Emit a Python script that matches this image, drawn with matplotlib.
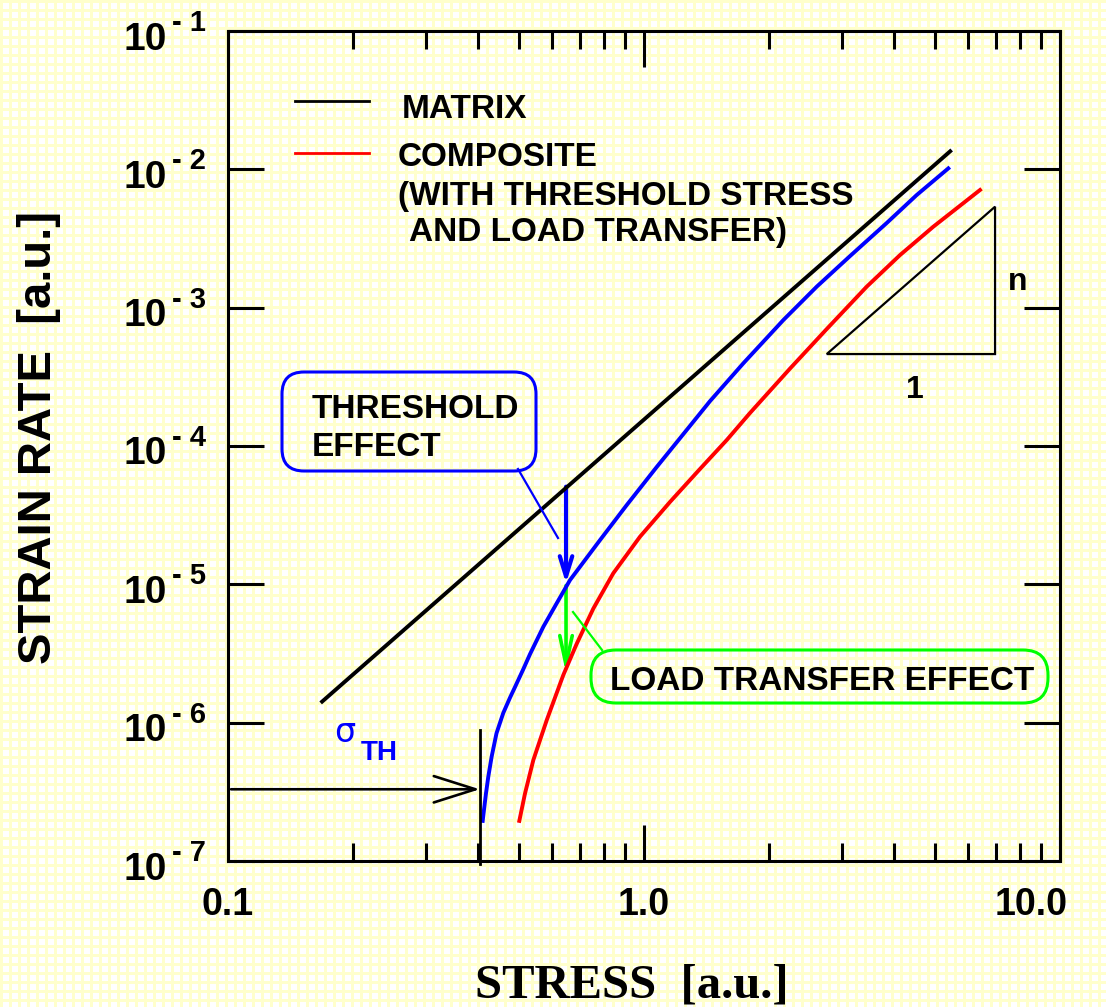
import numpy as np
import matplotlib
matplotlib.use('Agg')
import matplotlib.pyplot as plt
from matplotlib.patches import FancyBboxPatch, Polygon, FancyArrowPatch
from matplotlib.lines import Line2D
from matplotlib.ticker import LogLocator, NullLocator, NullFormatter

# ---------------- data ----------------
matrix_stress = [0.167, 5.49]
matrix_rate = [1.39e-6, 1.38e-2]

threshold_stress = [0.4095, 0.4124, 0.4170, 0.4224, 0.4303, 0.4420, 0.4589, 0.4760,
                    0.4897, 0.5128, 0.5321, 0.5729, 0.6167, 0.6640, 0.7840, 0.9087,
                    1.0728, 1.2666, 1.4409, 1.7327, 2.1627, 2.6009, 3.1276, 3.8310,
                    4.5235, 5.3891]
threshold_rate = [1.95e-7, 2.34e-7, 3.08e-7, 4.07e-7, 5.68e-7, 8.38e-7, 1.175e-6, 1.51e-6,
                  1.81e-6, 2.44e-6, 3.13e-6, 4.94e-6, 7.29e-6, 1.074e-5, 2.09e-5, 3.74e-5,
                  7.05e-5, 1.306e-4, 2.11e-4, 3.96e-4, 8.14e-4, 1.418e-3, 2.36e-3, 4.09e-3,
                  6.52e-3, 1.016e-2]

composite_stress = [0.5015, 0.5176, 0.5420, 0.5838, 0.6398, 0.6888, 0.7554, 0.8436,
                    0.9781, 1.1548, 1.3632, 1.5807, 1.7974, 2.2441, 2.7496, 3.4302,
                    4.1246, 4.9603, 6.4235]
composite_rate = [1.95e-7, 3.08e-7, 5.37e-7, 1.045e-6, 2.21e-6, 3.71e-6, 6.68e-6, 1.202e-5,
                  2.21e-5, 3.94e-5, 6.82e-5, 1.104e-4, 1.73e-4, 3.63e-4, 7.01e-4, 1.418e-3,
                  2.40e-3, 3.85e-3, 7.09e-3]

sigma_th = 0.403
sigma_arrow_rate = 3.3e-7
sigma_line_rate = [8.85e-7, 9.5e-8]

effect_stress = 0.6495
threshold_arrow_rate = [5.08e-5, 1.016e-5]
transfer_arrow_rate = [9.8e-6, 2.27e-6]

slope_x = [2.75, 6.98]
slope_y = [4.62e-4, 5.37e-3]

x_ticks = [0.1, 1.0, 10.0]
x_ticklabels = ['0.1', '1.0', '10.0']
y_exponents = [-1, -2, -3, -4, -5, -6, -7]

# ---------------- figure ----------------
W, H, DPI = 1106, 1007, 100
fig = plt.figure(figsize=(W / DPI, H / DPI), dpi=DPI)
SANS = 'Liberation Sans'

# paper-grid background
bg = fig.add_axes([0, 0, 1, 1], zorder=-10)
img = np.ones((H, W, 3))
yellow = np.array([1.0, 1.0, 0.80])
rows = (np.arange(H) % 9) <= 2
cols = (np.arange(W) % 9) <= 2
img[rows, :, :] = yellow
img[:, cols, :] = yellow
bg.imshow(img, aspect='auto', interpolation='nearest', extent=[0, W, H, 0])
bg.set_xlim(0, W); bg.set_ylim(H, 0)
bg.axis('off')

L, R, T, B = 228, 1060, 31, 861
ax = fig.add_axes([L / W, 1 - B / H, (R - L) / W, (B - T) / H])
ax.set_facecolor('none')
ax.set_xscale('log'); ax.set_yscale('log')
ax.set_xlim(0.1, 10); ax.set_ylim(1e-7, 1e-1)

for s in ax.spines.values():
    s.set_linewidth(2.2)

ax.xaxis.set_major_locator(LogLocator(base=10, numticks=10))
ax.xaxis.set_minor_locator(LogLocator(base=10, subs=np.arange(2, 10), numticks=20))
ax.xaxis.set_minor_formatter(NullFormatter())
ax.yaxis.set_minor_locator(NullLocator())
ax.tick_params(which='major', direction='in', length=26, width=2.2,
               top=True, right=True, labelleft=False, labelbottom=False)
ax.tick_params(which='minor', direction='in', length=13, width=2.2,
               top=True, right=True)

# curves
ax.plot(matrix_stress, matrix_rate, color='black', lw=2.8, solid_capstyle='butt')
ax.plot(threshold_stress, threshold_rate, color='#0000ff', lw=2.8)
ax.plot(composite_stress, composite_rate, color='#ff0000', lw=2.8)

# slope triangle
tri = Polygon([(slope_x[0], slope_y[0]), (slope_x[1], slope_y[0]), (slope_x[1], slope_y[1])],
              closed=True, fill=False, ec='black', lw=1.6)
ax.add_patch(tri)

# arrows
def arrow(p0, p1, color, lw, hl, hw):
    a2 = FancyArrowPatch(p0, p1, arrowstyle='->,head_length=%f,head_width=%f' % (hl, hw),
                         color=color, lw=lw, mutation_scale=10,
                         shrinkA=0, shrinkB=0, transform=ax.transData, clip_on=False)
    ax.add_patch(a2)

arrow((effect_stress, threshold_arrow_rate[0]), (effect_stress, threshold_arrow_rate[1]),
      '#0000ff', 3.0, 1.45, 0.45)
arrow((effect_stress, transfer_arrow_rate[0]), (effect_stress, transfer_arrow_rate[1]),
      '#00ff00', 2.6, 2.1, 0.45)
arrow((0.1017, sigma_arrow_rate), (sigma_th, sigma_arrow_rate), 'black', 1.9, 3.0, 0.95)
ax.plot([sigma_th, sigma_th], sigma_line_rate, color='black', lw=2.0, clip_on=False)

# tick labels
xoffs = [0, 0, -29]
for xt, lab, off in zip(x_ticks, x_ticklabels, xoffs):
    ax.annotate(lab, xy=(xt, 0), xycoords=ax.get_xaxis_transform(),
                xytext=(off * 0.72, -44 * 0.72), textcoords='offset points',
                ha='center', va='center', fontsize=27, fontweight='bold', family=SANS,
                annotation_clip=False)
for e in y_exponents:
    ax.annotate('10', xy=(0, 10.0 ** e), xycoords=ax.get_yaxis_transform(),
                xytext=(-61 * 0.72, -8.5 * 0.72), textcoords='offset points',
                ha='right', va='center', fontsize=28, fontweight='bold', family=SANS,
                annotation_clip=False)
    ax.annotate('- %d' % abs(e), xy=(0, 10.0 ** e), xycoords=ax.get_yaxis_transform(),
                xytext=(-56 * 0.72, 8 * 0.72), textcoords='offset points',
                ha='left', va='center', fontsize=21, fontweight='bold', family=SANS,
                annotation_clip=False)

# axis titles
fig.text(39 / W, 1 - 437 / H, 'STRAIN RATE  [a.u.]', rotation=90, ha='center', va='center',
         fontsize=34, fontweight='bold', family=SANS)
fig.text(632 / W, 1 - 985 / H, 'STRESS  [a.u.]', ha='center', va='center',
         fontsize=35, fontweight='bold', family='Liberation Serif')

# helpers in pixel space (from top-left)
tr = fig.dpi_scale_trans
def P(x, y):
    return (x / DPI, (H - y) / DPI)

def ptext(x, y, s, **kw):
    kw.setdefault('fontsize', 24)
    kw.setdefault('fontweight', 'bold')
    kw.setdefault('family', SANS)
    kw.setdefault('va', 'center')
    kw.setdefault('ha', 'left')
    fig.text(*P(x, y), s, transform=tr, **kw)

def pline(x0, y0, x1, y1, color, lw):
    (a, b), (c, d) = P(x0, y0), P(x1, y1)
    fig.add_artist(Line2D([a, c], [b, d], transform=tr, color=color, lw=lw))

def pbox(x0, y0, x1, y1, color, r):
    a, b = P(x0, y1)
    box = FancyBboxPatch((a, b), (x1 - x0) / DPI, (y1 - y0) / DPI,
                         boxstyle='round,pad=0,rounding_size=%f' % (r / DPI),
                         transform=tr, fill=False, ec=color, lw=2.2)
    fig.add_artist(box)

# legend
pline(295, 101, 369, 101, 'black', 2.0)
pline(295, 153, 369, 153, '#ff0000', 2.0)
ptext(402, 110, 'MATRIX')
ptext(398, 158, 'COMPOSITE')
ptext(398, 197, '(WITH THRESHOLD STRESS')
ptext(409, 233, 'AND LOAD TRANSFER)')

# threshold effect callout
pbox(282, 372, 536, 471, '#0000ff', 22)
ptext(312, 410, 'THRESHOLD')
ptext(312, 448, 'EFFECT')
pline(518, 469, 558, 538, '#0000ff', 1.6)

# load transfer callout
pbox(591, 650, 1048, 703, '#00ff00', 25)
ptext(610, 682, 'LOAD TRANSFER EFFECT')
pline(573, 612, 602, 650, '#00ff00', 1.6)

# slope labels
ptext(1018, 282, 'n', ha='center', fontsize=23)
ptext(915, 390, '1', ha='center', fontsize=23)

# sigma_TH
ptext(345, 733, 'σ', ha='center', fontsize=24, fontweight='normal', family='DejaVu Sans',
      color='#0000ff')
ptext(379, 753, 'TH', ha='center', fontsize=20, color='#0000ff')

fig.savefig('out.png', dpi=DPI)
